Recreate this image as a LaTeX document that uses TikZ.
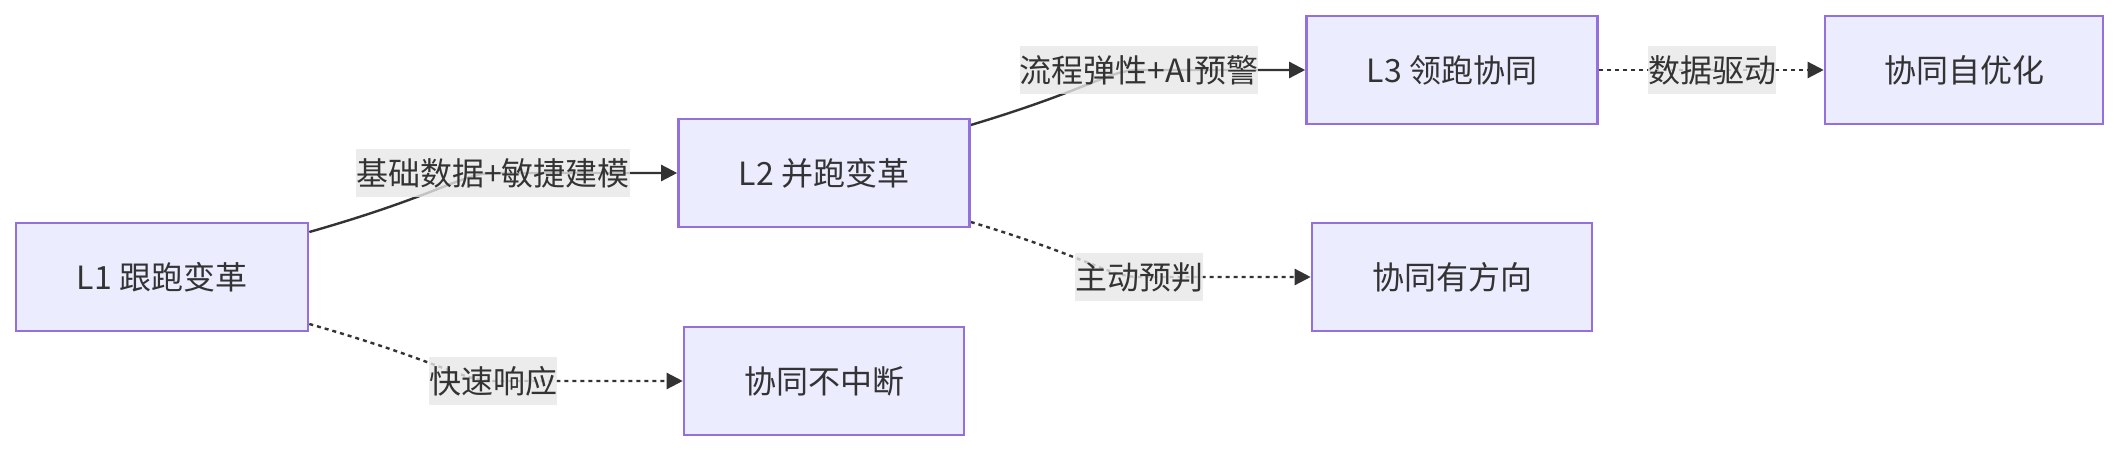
\documentclass[tikz,border=0pt]{standalone}
\usepackage{fontspec}
\setmainfont{Noto Sans CJK SC}
\usetikzlibrary{arrows.meta,calc,backgrounds}
\definecolor{boxfill}{HTML}{ECECFF}
\definecolor{boxline}{HTML}{9370DB}
\definecolor{ink}{HTML}{333333}
\definecolor{lblbg}{HTML}{E8E8E8}
\begin{document}
\begin{tikzpicture}[x=1pt,y=-1pt,
  box/.style={draw=boxline, fill=boxfill, line width=2.6pt, minimum height=108pt,
    inner xsep=0pt, text=ink, font=\fontsize{32}{38}\selectfont},
  lbl/.style={fill=lblbg, fill opacity=0.8, text opacity=1, text=ink, inner xsep=0pt,
    inner ysep=0pt, minimum height=48pt, font=\fontsize{32}{38}\selectfont},
  edge/.style={draw=ink, line width=2.4pt, -{Triangle[length=16pt,width=16pt]}},
  dotedge/.style={edge, dash pattern=on 4pt off 4pt}]
\useasboundingbox (0,0) rectangle (2121,452);
% boxes
\node[box, minimum width=292pt] (L1) at (162,277) {L1 跟跑变革};
\node[box, minimum width=291pt] (L2) at (824,173) {L2 并跑变革};
\node[box, minimum width=280pt] (C1) at (824,381) {协同不中断};
\node[box, minimum width=291pt] (L3) at (1452,70) {L3 领跑协同};
\node[box, minimum width=280pt] (C2) at (1452,277) {协同有方向};
\node[box, minimum width=278pt] (C3) at (1964,70) {协同自优化};
% edge labels
\node[lbl] (e1) at (493,173) {基础数据+敏捷建模};
\node[lbl] (e2) at (493,381) {快速响应};
\node[lbl] (e3) at (1139,70) {流程弹性+AI预警};
\node[lbl] (e4) at (1139,277) {主动预判};
\node[lbl] (e5) at (1712,70) {数据驱动};
% edges
\begin{scope}[on background layer]
\fill[white] (0,0) rectangle (2121,452);
\draw[edge] ([yshift=45pt]L1.east) .. controls +(130,-37) and +(-30,0) .. (e1.center) -- (L2.west);
\draw[dotedge] ([yshift=-47pt]L1.east) .. controls +(130,37) and +(-30,0) .. (e2.center) -- (C1.west);
\draw[edge] ([yshift=48pt]L2.east) .. controls +(120,-36) and +(-30,0) .. (e3.center) -- (L3.west);
\draw[dotedge] ([yshift=-49pt]L2.east) .. controls +(120,36) and +(-30,0) .. (e4.center) -- (C2.west);
\draw[dotedge] (L3.east) -- (e5.center) -- (C3.west);
\end{scope}
\end{tikzpicture}
\end{document}
